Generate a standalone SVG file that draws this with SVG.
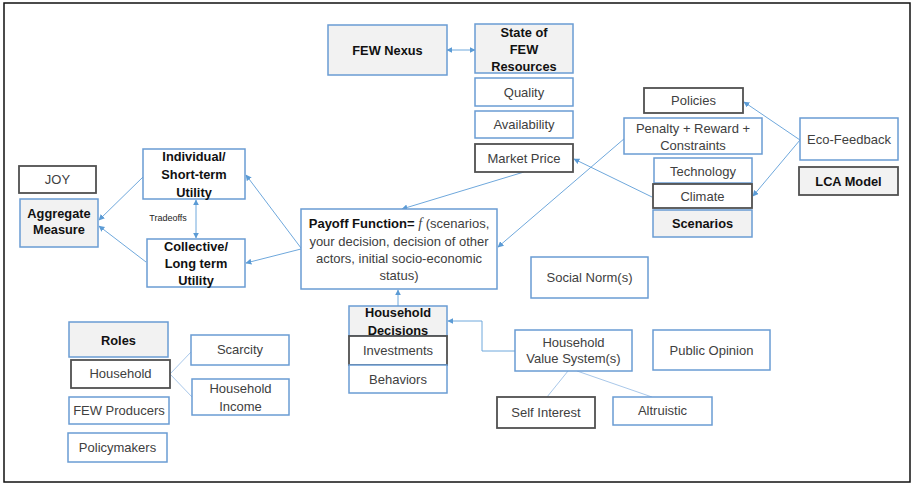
<svg xmlns="http://www.w3.org/2000/svg" width="912" height="484" viewBox="0 0 912 484">
<defs>
<marker id="ah" viewBox="0 0 10 10" refX="9" refY="5" markerWidth="6" markerHeight="6" orient="auto-start-reverse" markerUnits="userSpaceOnUse">
<path d="M0,0 L10,5 L0,10 z" fill="#5b9bd5"/>
</marker>
<style>
.b{fill:#fff;stroke:#6a9cd3;stroke-width:1.5}
.g{fill:#f2f2f2;stroke:#6a9cd3;stroke-width:1.5}
.d{fill:#fff;stroke:#505050;stroke-width:1.8}
.dg{fill:#f2f2f2;stroke:#505050;stroke-width:1.8}
text{font-family:"Liberation Sans",Arial,sans-serif;font-size:13px;fill:#404040;text-anchor:middle}
.t{font-weight:bold;fill:#111;font-size:12.8px}
.c{fill:none;stroke:#6fa8dc;stroke-width:1}
.cl{fill:none;stroke:#a9c8ea;stroke-width:1}
</style>
</defs>
<rect x="0" y="0" width="912" height="484" fill="#fff"/>
<rect x="4" y="3" width="906" height="479" fill="none" stroke="#111" stroke-width="1.5"/>

<g id="connectors">
<line class="c" x1="447" y1="50" x2="475" y2="50" marker-start="url(#ah)" marker-end="url(#ah)"/>
<line class="c" x1="524" y1="172" x2="402" y2="209" marker-end="url(#ah)"/>
<line class="c" x1="625" y1="138" x2="498" y2="247" marker-end="url(#ah)"/>
<line class="c" x1="652" y1="197" x2="574" y2="159" marker-end="url(#ah)"/>
<line class="c" x1="800" y1="140" x2="744" y2="102" marker-end="url(#ah)"/>
<line class="c" x1="800" y1="140" x2="753" y2="196" marker-end="url(#ah)"/>
<line class="c" x1="301" y1="248" x2="246" y2="175" marker-end="url(#ah)"/>
<line class="c" x1="301" y1="249" x2="246" y2="263" marker-end="url(#ah)"/>
<line class="c" x1="196" y1="200" x2="196" y2="238" marker-start="url(#ah)" marker-end="url(#ah)"/>
<line class="c" x1="143" y1="177" x2="99" y2="220" marker-end="url(#ah)"/>
<line class="c" x1="146" y1="262" x2="99" y2="226" marker-end="url(#ah)"/>
<line class="c" x1="398" y1="306" x2="398" y2="290" marker-end="url(#ah)"/>
<polyline class="c" points="515,351 482,351 482,321 448,321" marker-end="url(#ah)"/>
<line class="cl" x1="568" y1="371" x2="547" y2="397"/>
<line class="cl" x1="577" y1="371" x2="652" y2="397"/>
<line class="cl" x1="170" y1="374" x2="191" y2="352"/>
<line class="cl" x1="170" y1="374" x2="192" y2="397"/>
</g>

<g id="joy"><rect class="d" x="19" y="166" width="77" height="27"/><text x="57.5" y="184">JOY</text></g>
<g id="aggregate"><rect class="g" x="20" y="199" width="78" height="48"/><text class="t" x="59" y="218">Aggregate</text><text class="t" x="59" y="234">Measure</text></g>
<g id="individual"><rect class="b" x="143" y="149" width="102" height="50"/><text class="t" x="194" y="161">Individual/</text><text class="t" x="194" y="179">Short-term</text><text class="t" x="194" y="197">Utility</text></g>
<text x="168" y="221" style="font-size:9px;fill:#222">Tradeoffs</text>
<g id="collective"><rect class="b" x="147" y="239" width="98" height="48"/><text class="t" x="196" y="251">Collective/</text><text class="t" x="196" y="268">Long term</text><text class="t" x="196" y="285">Utility</text></g>
<g id="payoff"><rect class="b" x="301" y="209" width="196" height="80"/>
<text x="399" y="228"><tspan style="font-weight:bold;fill:#111">Payoff Function= </tspan><tspan style="font-family:'Liberation Serif',serif;font-style:italic;font-size:14px">f</tspan> (scenarios,</text>
<text x="399" y="246">your decision, decision of other</text>
<text x="399" y="263">actors, initial socio-economic</text>
<text x="399" y="280">status)</text></g>
<g id="fewnexus"><rect class="g" x="328" y="25" width="119" height="50"/><text class="t" x="387.5" y="55">FEW Nexus</text></g>
<g id="state"><rect class="g" x="475" y="24" width="98" height="49"/><text class="t" x="524" y="37">State of</text><text class="t" x="524" y="54">FEW</text><text class="t" x="524" y="71">Resources</text></g>
<g id="quality"><rect class="b" x="475" y="78" width="98" height="28"/><text x="524" y="97">Quality</text></g>
<g id="availability"><rect class="b" x="475" y="111" width="98" height="27"/><text x="524" y="129">Availability</text></g>
<g id="marketprice"><rect class="d" x="475" y="144" width="98" height="28"/><text x="524" y="163">Market Price</text></g>
<g id="policies"><rect class="d" x="644" y="88" width="99" height="25"/><text x="693.5" y="105">Policies</text></g>
<g id="penalty"><rect class="b" x="624" y="118" width="138" height="36"/><text x="693" y="133">Penalty + Reward +</text><text x="693" y="150">Constraints</text></g>
<g id="technology"><rect class="b" x="654" y="158" width="98" height="25"/><text x="703" y="176">Technology</text></g>
<g id="climate"><rect class="d" x="653" y="184" width="99" height="24"/><text x="702.5" y="201">Climate</text></g>
<g id="scenarios"><rect class="g" x="653" y="210" width="99" height="27"/><text class="t" x="702.5" y="228">Scenarios</text></g>
<g id="ecofeedback"><rect class="b" x="800" y="118" width="98" height="42"/><text x="849" y="144">Eco-Feedback</text></g>
<g id="lca"><rect class="dg" x="799" y="167" width="99" height="28"/><text class="t" x="848.5" y="186">LCA Model</text></g>
<g id="socialnorm"><rect class="b" x="531" y="257" width="117" height="41"/><text x="589.5" y="282">Social Norm(s)</text></g>
<g id="publicopinion"><rect class="b" x="653" y="330" width="117" height="40"/><text x="711.5" y="355">Public Opinion</text></g>
<g id="hvs"><rect class="b" x="515" y="330" width="117" height="41"/><text x="573.5" y="347">Household</text><text x="573.5" y="363">Value System(s)</text></g>
<g id="selfinterest"><rect class="d" x="497" y="397" width="98" height="31"/><text x="546" y="417">Self Interest</text></g>
<g id="altruistic"><rect class="b" x="613" y="397" width="99" height="28"/><text x="662.5" y="415">Altruistic</text></g>
<g id="hhdecisions"><rect class="g" x="349" y="306" width="98" height="30"/><text class="t" x="398" y="317">Household</text><text class="t" x="398" y="335">Decisions</text></g>
<g id="investments"><rect class="d" x="349" y="336" width="98" height="29"/><text x="398" y="355">Investments</text></g>
<g id="behaviors"><rect class="b" x="349" y="365" width="98" height="28"/><text x="398" y="384">Behaviors</text></g>
<g id="roles"><rect class="g" x="69" y="322" width="99" height="35"/><text class="t" x="118.5" y="345">Roles</text></g>
<g id="household"><rect class="d" x="71" y="360" width="99" height="28"/><text x="120.5" y="378">Household</text></g>
<g id="producers"><rect class="b" x="69" y="397" width="100" height="27"/><text x="119" y="415">FEW Producers</text></g>
<g id="policymakers"><rect class="b" x="68" y="433" width="99" height="29"/><text x="117.5" y="452">Policymakers</text></g>
<g id="scarcity"><rect class="b" x="191" y="335" width="98" height="30"/><text x="240" y="354">Scarcity</text></g>
<g id="hhincome"><rect class="b" x="192" y="379" width="97" height="36"/><text x="240.5" y="393">Household</text><text x="240.5" y="411">Income</text></g>
</svg>
